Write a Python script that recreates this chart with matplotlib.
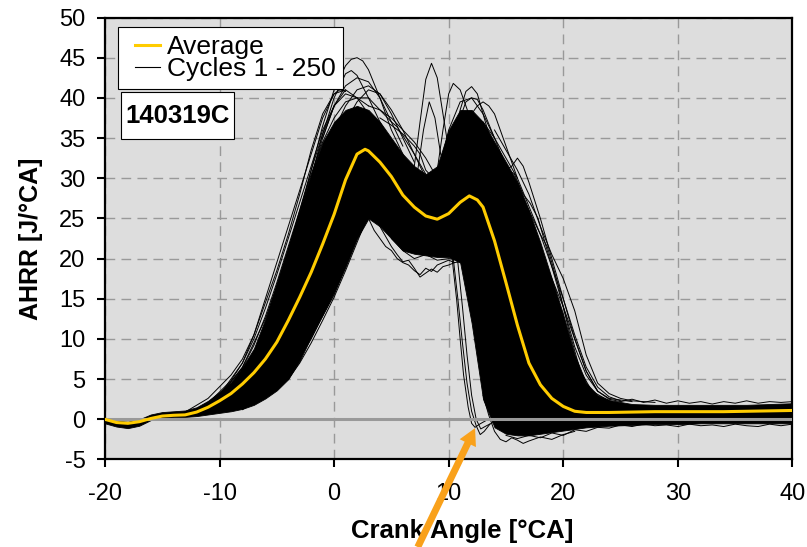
import numpy as np
import matplotlib.pyplot as plt
import matplotlib
from matplotlib.lines import Line2D
from matplotlib.legend_handler import HandlerLine2D
from matplotlib.patches import Rectangle

matplotlib.rcParams['font.family'] = ['Liberation Sans', 'DejaVu Sans']
matplotlib.rcParams['axes.unicode_minus'] = False

# average heat release rate
avg_x = [-20, -19, -18, -17, -16, -15, -14, -13, -12, -11, -10, -9, -8, -7, -6, -5, -4, -3, -2, -1,
         0, 1, 2, 2.7, 3, 4, 5, 6, 7, 8, 9, 10, 11, 11.8, 12.5, 13, 14, 15, 16, 17, 18, 19, 20,
         21, 22, 24, 26, 28, 30, 32, 34, 36, 38, 40]
avg_y = [0.0, -0.4, -0.5, -0.3, 0.1, 0.4, 0.5, 0.55, 0.9, 1.5, 2.3, 3.2, 4.4, 5.8, 7.5, 9.6, 12.3, 15.2, 18.3, 21.8,
         25.5, 29.8, 33.0, 33.6, 33.4, 32.0, 30.2, 27.9, 26.4, 25.3, 24.9, 25.6, 27.0, 27.8, 27.3, 26.4, 22.2, 17.0, 11.7, 7.0, 4.3, 2.6, 1.6,
         1.0, 0.85, 0.85, 0.9, 0.95, 0.95, 0.95, 0.95, 1.0, 1.05, 1.1]

# dense core of the 250 cycles (upper / lower edge)
core_x = [-20, -19, -18, -17, -16, -15, -14, -13, -12, -11, -10, -9, -8, -7, -6, -5, -4, -3, -2, -1,
          0, 1, 2, 3, 4, 5, 6, 7, 8, 9, 10, 11, 12, 13, 14, 15, 16, 17, 18, 19, 20, 21, 22, 23, 24,
          26, 28, 30, 32, 34, 36, 38, 40]
core_hi = [0.2, -0.2, -0.3, 0.0, 0.6, 0.9, 1.0, 1.1, 1.5, 2.3, 3.4, 4.6, 6.5, 8.8, 12.5, 17.0, 21.5, 26.0, 30.5, 34.5,
           37.0, 38.5, 39.0, 38.5, 37.0, 35.0, 33.0, 31.5, 30.5, 31.5, 36.0, 38.5, 38.5, 37.0, 34.5, 32.0, 29.5, 26.0, 22.0, 17.5, 13.0, 8.0, 4.5, 3.0, 2.4,
           1.9, 1.8, 1.8, 1.8, 1.8, 1.8, 1.9, 2.0]
core_lo = [-0.5, -0.9, -1.1, -0.8, -0.1, 0.2, 0.3, 0.3, 0.4, 0.6, 0.8, 1.0, 1.3, 1.8, 2.6, 3.6, 5.0, 7.3, 10.3, 13.0,
           15.8, 19.0, 22.5, 25.0, 24.0, 22.5, 21.0, 20.6, 20.4, 20.2, 20.2, 19.5, 12.0, 2.5, -1.0, -1.8, -2.0, -2.0, -1.8, -1.6, -1.4, -1.2, -1.0, -0.9, -0.8,
           -0.7, -0.6, -0.6, -0.5, -0.5, -0.5, -0.5, -0.5]

# single cycles that stand out of the core
fringe_cycles = [
    # early rising edge
    ([-13, -11, -9, -8, -7, -6, -5, -4, -3, -2, -1, 0, 1],
     [0.9, 2.6, 5.5, 7.5, 10.5, 14.5, 18.5, 23, 28, 33.5, 38, 40.5, 41]),
    ([-12, -10, -8, -7, -6, -5, -4, -3, -2, -1, 0, 0.5, 1],
     [1.2, 3.0, 7.0, 10.5, 15, 19.5, 24, 28.5, 33, 37.5, 40.5, 41, 40.8]),
    ([-11, -9, -8, -7, -6, -5, -4, -3, -2, -1, 0, 1, 2],
     [2, 4.8, 7.0, 10, 13.8, 18, 22.5, 27, 31.5, 36, 39, 40.5, 40]),
    ([-10, -8, -7, -6, -5, -4, -3, -2, -1, 0, 1, 2, 3],
     [3, 6.4, 9.2, 12.8, 17, 21.5, 26, 30.5, 34.5, 37.5, 39.5, 40, 39]),
    ([-10, -8, -6, -5, -4, -3, -2, -1, 0],
     [2.8, 6.5, 12.5, 16.5, 21, 26, 31, 35.5, 39]),
    # late rising edge
    ([-8, -6, -4, -3, -2, -1, 0, 1, 2, 3],
     [1.2, 3.0, 5.0, 7.0, 9.5, 12.3, 15.2, 18.5, 22, 25.5]),
    ([-6, -4, -2, -1.2, 0, 1, 2, 3, 4],
     [3.2, 5.4, 10.0, 12.3, 15.5, 19, 22.5, 25.5, 27]),
    # first peak
    ([-4, -3, -2, -1, 0, 1, 1.5, 2, 2.5, 3, 4, 5, 6, 7],
     [20, 25.5, 31, 36.5, 41, 44, 44.8, 45, 44.6, 43.5, 40, 36, 33, 30.5]),
    ([-3, -2, -1, 0, 1, 1.5, 2, 3, 4, 5, 6],
     [25, 30, 35.5, 40, 43, 43.4, 42.8, 40, 37, 34.5, 32]),
    ([-1, 0, 1, 2, 3, 4, 5, 6],
     [35, 39, 41.5, 42.5, 42, 40, 37, 34]),
    ([0, 1, 2, 3, 4, 5, 6, 7],
     [36, 39, 41, 41.5, 40.5, 38, 35, 32]),
    ([1, 2, 3, 4, 5, 6, 7, 8],
     [37, 39.5, 41, 40.5, 38.5, 36, 33, 30.5]),
    ([-2, -1, 0, 1, 2, 3],
     [30, 35, 39, 41, 40, 38]),
    ([2, 3, 4, 5, 5.5, 6, 7, 8, 9],
     [40, 40, 38.5, 37, 36.4, 35.3, 33, 30, 29]),
    ([3, 4, 5, 6, 7, 8, 9],
     [39, 38.5, 37.5, 36, 34.5, 32.5, 30]),
    ([4, 5, 6, 7, 7.5, 8, 9],
     [37.5, 36.6, 35.5, 34, 33, 31, 29.5]),
    # spikes between the peaks
    ([6, 7, 7.5, 8, 8.5, 9, 9.5, 10, 10.5, 11],
     [30, 31.5, 37, 42.3, 44.3, 42.5, 38, 33.5, 31, 31]),
    ([6.5, 7.3, 7.8, 8.3, 8.8, 9.3, 10],
     [29.5, 31, 36, 39.5, 37.5, 33, 30]),
    # second peak
    ([8.5, 9, 9.5, 10, 10.4, 11, 11.5, 12, 13, 14],
     [28, 31, 36, 40.5, 41.8, 41, 39, 37, 34, 31]),
    ([9, 10, 10.5, 11, 11.5, 12, 12.5, 13, 14, 15],
     [27, 31, 34.5, 38.5, 40.8, 41.4, 40.5, 38, 33, 29]),
    ([9, 10, 11, 12, 13, 14],
     [30, 36, 39.5, 40, 38, 35]),
    ([10, 11, 11.5, 12, 12.5, 13, 14, 15],
     [33, 37.5, 39.5, 40, 39.8, 38.5, 35, 31.5]),
    ([10.5, 11.5, 12.5, 13, 13.5, 14, 15, 16],
     [33, 37, 39, 39.5, 39, 38, 34, 30]),
    # lower edge of the valley
    ([3, 3.5, 4, 4.5, 5, 5.5, 6, 6.5, 7, 7.5, 8, 8.5, 9, 9.5, 10, 10.5],
     [25, 23.5, 22.5, 21.5, 21, 20, 19.5, 19.2, 18.5, 18, 18.8, 18.4, 19.2, 19.5, 19.8, 19.5]),
    ([4, 5, 5.5, 6, 6.5, 7, 7.5, 8, 8.5, 9, 9.5, 10, 10.5, 11],
     [24, 21.5, 20.5, 19.6, 19.8, 18.8, 17.7, 18.2, 18.7, 18.3, 19, 19.2, 19.5, 19.6]),
    ([5, 6, 7, 8, 9, 10, 11],
     [22.5, 21, 20, 20.5, 19.8, 20, 19.8]),
    # early burn-out cycles
    ([9, 10, 10.3, 10.7, 11, 11.3, 11.7, 12, 12.3, 12.7, 13.2],
     [24, 21, 20, 14.8, 10, 5.5, 1.5, -0.5, -1.0, -0.6, -0.2]),
    ([9.5, 10.4, 10.8, 11.2, 11.6, 12, 12.4, 12.75, 13.1, 13.6],
     [23, 20, 15, 9.5, 4.5, 1, -0.8, -1.9, -1.5, -0.6]),
    ([10, 10.8, 11.2, 11.6, 12, 12.4, 12.8, 13.3, 14],
     [22, 19.5, 14, 8, 3, 0, -1.2, -0.8, -0.3]),
    # lower tail
    ([13, 13.5, 14, 14.5, 15, 15.5, 16, 16.5, 17, 18, 19, 20, 21],
     [3, 0.5, -1.5, -2.5, -2.8, -2.3, -2.6, -3.0, -2.7, -2.2, -2.5, -1.9, -1.5]),
    ([15, 16, 17, 18, 19, 20, 21, 22, 23, 24, 25, 26, 27, 28, 29, 30, 31, 32, 33, 34, 35, 36, 37, 38, 39, 40],
     [-2, -2.4, -2.0, -2.3, -1.7, -2.0, -1.3, -1.5, -1.0, -1.1, -0.7, -0.9, -0.6, -0.8, -0.7, -0.9, -0.6, -0.8, -0.7, -0.9, -0.6, -0.8, -0.9, -0.6, -0.8, -0.6]),
    # late burning cycles
    ([14, 15, 16, 17, 18, 19, 20, 21, 22, 23, 24, 25, 26, 28],
     [36, 33.5, 31, 28, 24, 20.5, 17.5, 13.5, 8, 4.5, 3.2, 2.6, 2.3, 2.1]),
    ([15, 15.7, 16.5, 17.1, 17.8, 19, 20, 21, 22, 23, 24, 26],
     [31, 30.6, 28, 26.9, 25, 19, 14, 9, 5.5, 3.5, 2.6, 2.2]),
    ([13, 14, 14.3, 15, 15.5, 16, 17, 18, 18.6, 19.5, 20.5, 21.5, 22.5, 24],
     [36, 33, 32.3, 31, 30.4, 29, 26, 23, 21.5, 17, 11, 6, 3.5, 2.3]),
    ([13, 14, 15, 16, 17, 18, 19, 20, 21, 22, 23, 24, 25],
     [37, 35, 32.5, 30, 26.5, 23, 19, 15, 10.5, 6.5, 4, 2.8, 2.3]),
    ([14, 15, 16, 17, 18, 19, 20, 21, 22, 23, 24],
     [33, 30.5, 28, 25, 21, 17.5, 14, 10, 6, 3.5, 2.5]),
    ([13, 14, 15, 15.5, 16, 16.5, 17, 18, 19, 20, 21, 22, 23],
     [35, 33, 31, 31.5, 32.5, 31.5, 29.5, 25, 20, 15, 10, 6, 3.5]),
    ([24, 25, 26, 27, 28, 29, 30, 31, 32, 33, 34, 35, 36, 37, 38, 39, 40],
     [2.5, 2.2, 2.5, 2.1, 2.4, 2.0, 2.3, 2.0, 2.2, 1.9, 2.2, 2.0, 2.3, 2.0, 2.2, 2.1, 2.2]),
]

fig = plt.figure(figsize=(8.07, 5.47), dpi=100)
ax = fig.add_axes([0.130, 0.160, 0.852, 0.808])
ax.set_facecolor('#DDDDDD')

ax.fill_between(core_x, core_lo, core_hi, color='k', lw=0.6, zorder=2)
for cx, cy in fringe_cycles:
    ax.plot(cx, cy, color='k', lw=0.7, zorder=2)
ax.axhline(0, color='#999999', lw=2.2, zorder=3)
ax.plot(avg_x, avg_y, color='#FFCC00', lw=2.2, zorder=4)

ax.set_xlim(-20, 40)
ax.set_ylim(-5, 50)
ax.set_xticks(np.arange(-20, 41, 10))
ax.set_yticks(np.arange(-5, 51, 5))
ax.set_axisbelow(True)
ax.grid(True, color='#999999', lw=1.0, linestyle=(0, (7, 4.5)))
for s in ax.spines.values():
    s.set_linewidth(1.6)
ax.tick_params(direction='out', length=6, width=1.5, labelsize=17)
ax.tick_params(axis='x', pad=11)
ax.tick_params(axis='y', pad=8)

ax.set_xlabel('Crank Angle [°CA]', fontsize=18.5, fontweight='bold', labelpad=2)
ax.xaxis.set_label_coords(0.52, -0.135)
ax.set_ylabel('AHRR [J/°CA]', fontsize=18, fontweight='bold', labelpad=12)

handles = [Line2D([], [], color='#FFCC00', lw=2.2), Line2D([], [], color='k', lw=0.8)]
leg = ax.legend(handles, ['Average', 'Cycles 1 - 250'], loc='upper left', bbox_to_anchor=(0.019, 0.978),
                fontsize=19, fancybox=False, edgecolor='k', framealpha=1, borderaxespad=0,
                handlelength=1.3, handletextpad=0.25, labelspacing=-0.08, borderpad=0.3,
                handler_map={Line2D: HandlerLine2D(xpad=0.35)})
leg.get_frame().set_linewidth(0.8)
leg.set_zorder(6)

# sample label box
ax.add_patch(Rectangle((0.0233, 0.725), 0.1645, 0.106, transform=ax.transAxes,
                       facecolor='white', edgecolor='k', lw=0.8, zorder=6))
ax.text(0.1055, 0.778, '140319C', transform=ax.transAxes, fontsize=18.5, fontweight='bold',
        ha='center', va='center', zorder=7)

ax.annotate('', xy=(12.3, -1.1), xytext=(7.3, -15.9), annotation_clip=False, zorder=7,
            arrowprops=dict(facecolor='#F9A11B', edgecolor='none', width=5, headwidth=13,
                            headlength=12, shrink=0))

plt.savefig('out.png')
